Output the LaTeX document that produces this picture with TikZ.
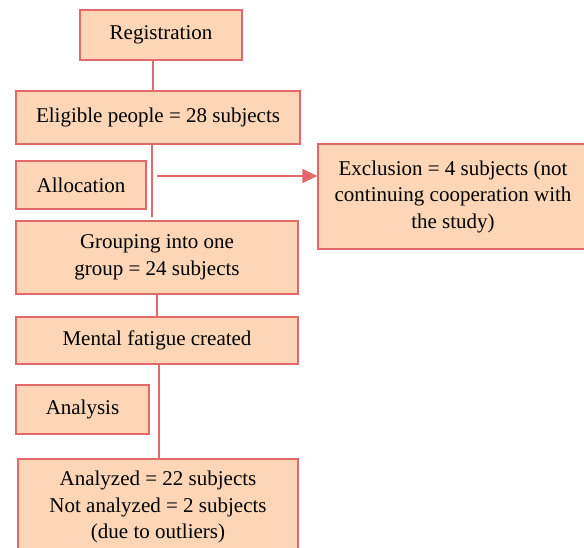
\documentclass[tikz,border=0pt]{standalone}
\usepackage{fontspec}
\setmainfont{Liberation Serif}
\usetikzlibrary{positioning,arrows.meta,calc}
\definecolor{boxfill}{RGB}{252,214,182}
\definecolor{boxline}{RGB}{226,104,106}
\tikzset{
stagenode/.style={rectangle, draw=boxline, fill=boxfill, line width=1.3pt, inner sep=0pt,
                  align=center, font=\fontsize{21}{26.5}\selectfont},
link/.style={draw=boxline, line width=1.3pt},
>={Triangle[width=14pt,length=15pt]}
}
\begin{document}
\begin{tikzpicture}[x=1pt, y=-1pt]
\useasboundingbox (0,0) rectangle (584,548);
\clip (0,0) rectangle (584,548);

%Flow nodes
\node[stagenode, minimum width=162, minimum height=50] (registration) at(161,35) {Registration};
\node[stagenode, minimum width=284, minimum height=53] (eligible) at(158,117.5) {Eligible people = 28 subjects};
\node[stagenode, minimum width=130, minimum height=48] (allocation) at(81,185) {Allocation};
\node[stagenode, minimum width=270, minimum height=105] (exclusion) at(453,196.5) {Exclusion = 4 subjects (not\\ continuing cooperation with\\ the study)};
\node[stagenode, minimum width=282, minimum height=73] (grouping) at(157,257.5) {Grouping into one\\ group = 24 subjects};
\node[stagenode, minimum width=282, minimum height=47] (fatigue) at(157,340.5) {Mental fatigue created};
\node[stagenode, minimum width=133, minimum height=49] (analysis) at(82.5,409.5) {Analysis};
\node[stagenode, minimum width=280, minimum height=96] (analyzed) at(158,507) {Analyzed = 22 subjects\\ Not analyzed = 2 subjects\\ (due to outliers)};

\coordinate (split) at(157,176);
\coordinate (trunkend) at(152,217);

\draw[link] ([xshift=-8]registration.south) -- ([xshift=-5]eligible.north);
\draw[link] ([xshift=-6]eligible.south) -- (trunkend);
\draw[link,->] (split) -- (split -| exclusion.west);
\draw[link] (grouping.south) -- (fatigue.north);
\draw[link] ([xshift=2]fatigue.south) -- ([xshift=1]analyzed.north);
\end{tikzpicture}
\end{document}
